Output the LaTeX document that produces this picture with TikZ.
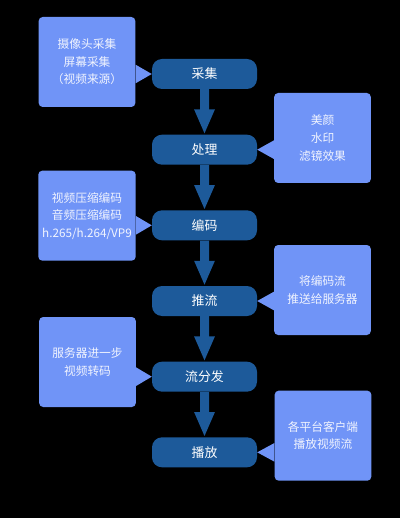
\documentclass[tikz,border=0pt]{standalone}
\usepackage{fontspec}
\setmainfont{Noto Sans CJK SC}
\usetikzlibrary{arrows.meta,calc}
\definecolor{stepblue}{HTML}{1D5A9A}
\definecolor{noteblue}{HTML}{7094F7}
\begin{document}
\begin{tikzpicture}[
        level distance=2.27cm,
        edge from parent/.style={draw=stepblue, line width=0.27cm,
          -{Triangle[length=0.75cm,width=0.56cm]}},
        stepbox/.style={fill=stepblue, rounded corners=0.3cm, minimum width=3.15cm,
          minimum height=0.9cm, text=white, font=\fontsize{11}{13}\selectfont},
        notebox/.style={fill=noteblue, rounded corners=0.12cm, minimum width=2.9cm,
          minimum height=2.7cm, text=white!90!noteblue, align=center,
          font=\fontsize{10}{15}\selectfont}
      ]
      \fill[black] (0,0) rectangle (12,-15.54);

      \node[stepbox] (cap) at (6.135,-2.22) {采集}
        child {node[stepbox] (proc) {处理}
          child {node[stepbox] (code) {编码}
            child {node[stepbox] (push) {推流}
              child {node[stepbox] (dist) {流分发}
                child {node[stepbox] (play) {播放}}
              }
            }
          }
        };

      \node[notebox] (camnote) at (2.61,-1.86) {摄像头采集\\屏幕采集\\（视频来源）};
      \node[notebox] (fxnote) at (9.675,-4.14) {美颜\\水印\\滤镜效果};
      \node[notebox] (codecnote) at (2.61,-6.47) {视频压缩编码\\音频压缩编码\\h.265/h.264/VP9};
      \node[notebox] (pushnote) at (9.675,-8.7) {将编码流\\推送给服务器};
      \node[notebox] (cdnnote) at (2.625,-10.86) {服务器进一步\\视频转码};
      \node[notebox] (playnote) at (9.69,-13.07) {各平台客户端\\播放视频流};

      \foreach \note/\nside/\stp/\sside in {camnote/east/cap/west, fxnote/west/proc/east,
          codecnote/east/code/west, pushnote/west/push/east,
          cdnnote/east/dist/west, playnote/west/play/east}
        \fill[noteblue] ($(\note.\nside |- \stp.center)+(0,0.28)$) -- (\stp.\sside)
          -- ($(\note.\nside |- \stp.center)+(0,-0.28)$) -- cycle;
    \end{tikzpicture}
\end{document}
